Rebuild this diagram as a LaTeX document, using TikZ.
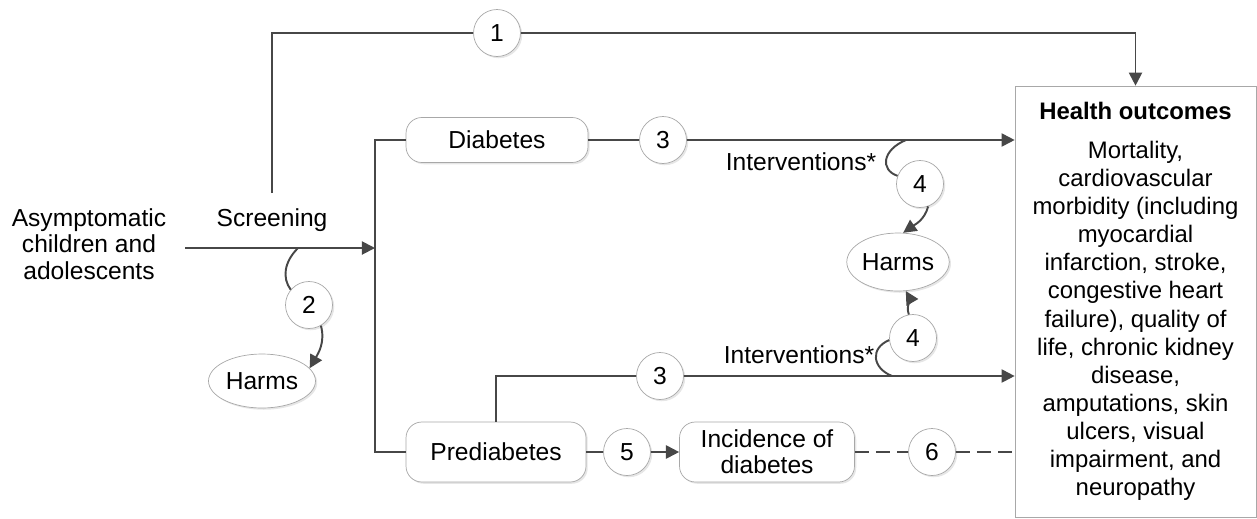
\documentclass[tikz,border=0pt]{standalone}
\usepackage{fontspec}
\setmainfont{Liberation Sans}
\usepackage{tikz}
\usetikzlibrary{shapes.geometric, arrows.meta, positioning, shadows}
\usepackage[usenames,dvipsnames]{xcolor}
\definecolor{lineGray}{HTML}{474747}
\definecolor{edgeGray}{HTML}{A8A8A8}
\newcommand{\pxUnit}{0.02cm}
\tikzset{
  flowLine/.style={draw=lineGray, line width=1.1pt},
  flowArrow/.style={flowLine, -{Triangle[length=7.5pt,width=7.5pt]}},
  softShadow/.style={drop shadow={shadow xshift=1pt, shadow yshift=-1pt, opacity=0.2, fill=gray}},
  roundBox/.style={draw=edgeGray, rounded corners=9pt, fill=white, align=center, softShadow},
  numCircle/.style={circle, draw=edgeGray, fill=white, minimum size=0.94cm, inner sep=0pt, softShadow},
  harmsOval/.style={ellipse, draw=edgeGray, fill=white, inner sep=0pt, softShadow},
  outcomeBox/.style={draw=edgeGray, fill=white, minimum width=4.82cm, minimum height=8.62cm, align=center, inner sep=0pt}
}

\begin{document}
\begin{tikzpicture}[x=\pxUnit, y=-\pxUnit, font=\fontsize{14}{15}\selectfont]
\useasboundingbox (0,0) rectangle (1257,518);
% outcomes on the right
\node[outcomeBox, font=\fontsize{13.6}{16}\selectfont] (hout) at (1135.5,301.5) {\textbf{Health outcomes}\\[6pt]
Mortality,\\cardiovascular\\morbidity (including\\myocardial\\infarction, stroke,\\congestive heart\\failure), quality of\\life, chronic kidney\\disease,\\amputations, skin\\ulcers, visual\\impairment, and\\neuropathy};
% screening
\node[align=center] (kids) at (89,244) {Asymptomatic\\children and\\adolescents};
\node (scr) at (272,220) {Screening};
\coordinate (kidsOut) at (185,248);
\coordinate (split) at (375,248);
\coordinate (scrTop) at (272,193);
\draw[flowArrow] (kidsOut) -- (split);
\node[numCircle] (n1) at (497,33) {1};
\draw[flowLine] (scrTop) |- (n1);
\draw[flowArrow] (n1) -| (hout.north);
% harms of screening
\node[harmsOval, minimum width=2.14cm, minimum height=1.08cm] (harmsL) at (262,381) {Harms};
\node[numCircle] (n2) at (309,305) {2};
\coordinate (tap2) at (298,248);
\draw[flowLine] (tap2) .. controls (284,262) and (282,278) .. (n2.140);
\draw[flowArrow] (n2.300) to[out=-75,in=60] (harmsL.15);
% diabetes branch
\node[roundBox, minimum width=3.64cm, minimum height=0.9cm] (diab) at (497,140) {Diabetes};
\node[roundBox, minimum width=3.6cm, minimum height=1.2cm] (prediab) at (496,452) {Prediabetes};
\draw[flowLine] (diab.west) -| (split) |- (prediab.west);
\node[numCircle] (n3a) at (663,140) {3};
\draw[flowLine] (diab) -- (n3a);
\draw[flowArrow] (n3a) -- (n3a -| hout.west);
\node (int1) at (801,162) {Interventions*};
% harms of interventions
\node[harmsOval, minimum width=2.0cm, minimum height=1.16cm] (harmsR) at (898,262) {Harms};
\node[numCircle] (n4a) at (920,184) {4};
\coordinate (tap4a) at (906,140);
\draw[flowLine] (tap4a) .. controls (882,150) and (880,170) .. (n4a.160);
\draw[flowArrow] (n4a.290) to[out=-105,in=35] (harmsR.80);
% prediabetes branch
\node[numCircle] (n3b) at (660,376) {3};
\draw[flowLine] (prediab.north) |- (n3b);
\draw[flowArrow] (n3b) -- (n3b -| hout.west);
\node (int2) at (799,355) {Interventions*};
\node[numCircle] (n4b) at (913,338) {4};
\coordinate (tap4b) at (892,376);
\draw[flowLine] (tap4b) .. controls (872,368) and (870,348) .. (n4b.185);
\draw[flowArrow] (n4b.100) to[out=110,in=-60] (harmsR.285);
% progression to diabetes
\node[numCircle] (n5) at (627,452) {5};
\node[roundBox, minimum width=3.5cm, minimum height=1.2cm] (incid) at (767,452) {Incidence of\\diabetes};
\node[numCircle] (n6) at (932,452) {6};
\draw[flowLine] (prediab) -- (n5);
\draw[flowArrow] (n5) -- (incid);
\draw[flowLine, dash pattern=on 8pt off 4pt] (incid) -- (n6);
\draw[flowLine, dash pattern=on 8pt off 4pt] (n6) -- (n6 -| hout.west);
\end{tikzpicture}
\end{document}
